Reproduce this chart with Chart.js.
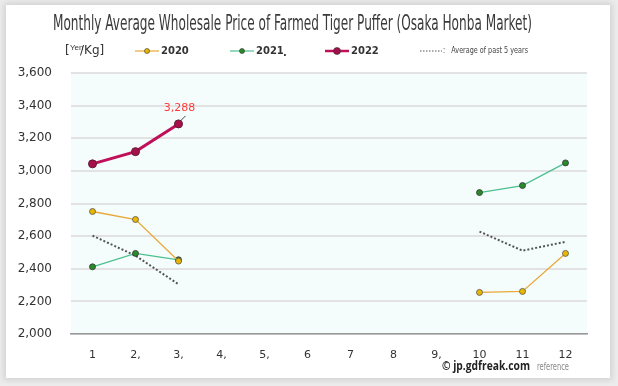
<!DOCTYPE html>
<html>
<head>
<meta charset="utf-8">
<script src="https://cdn.jsdelivr.net/npm/chart.js@4"></script>
<style>
  html, body { margin: 0; padding: 0; }
  body { width: 618px; height: 386px; background: #ececec; position: relative; overflow: hidden; }
  #card { position: absolute; left: 6px; top: 5px; width: 604px; height: 373px; background: #fff;
          box-shadow: 0 0 6px 2px rgba(0,0,0,0.12); }
  #wrap { position: absolute; left: 0; top: 0; width: 618px; height: 386px; }
</style>
</head>
<body>
<div id="card"></div>
<div id="wrap"><canvas id="chart" width="618" height="386"></canvas></div>
<script>
// Daten
const months = ['1', '2,', '3,', '4,', '5,', '6', '7', '8', '9,', '10', '11', '12'];
const price2020 = [2751, 2702, 2447, null, null, null, null, null, null, 2255, 2261, 2494];
const price2021 = [2412, 2494, 2455, null, null, null, null, null, null, 2867, 2910, 3049];
const price2022 = [3043, 3118, 3288, null, null, null, null, null, null, null, null, null];
const avg5y     = [2603, 2480, 2305, null, null, null, null, null, null, 2628, 2511, 2565];
const yTicks = [2000, 2200, 2400, 2600, 2800, 3000, 3200, 3400, 3600];

const titleText = 'Monthly Average Wholesale Price of Farmed Tiger Puffer (Osaka Honba Market)';

// Text horizontal auf eine Zielbreite stauchen (schmale Schrift nachahmen)
function drawFitted(ctx, text, x, y, width, font, color) {
  ctx.save();
  ctx.font = font;
  ctx.fillStyle = color;
  ctx.textBaseline = 'middle';
  ctx.textAlign = 'left';
  const w = ctx.measureText(text).width;
  ctx.translate(x, y);
  ctx.scale(width / w, 1);
  ctx.fillText(text, 0, 0);
  ctx.restore();
}

const decoPlugin = {
  id: 'deco',
  beforeDraw(chart) {
    const { ctx, chartArea: a } = chart;
    ctx.save();
    ctx.fillStyle = '#f5fcfc';
    ctx.fillRect(a.left, a.top, a.right - a.left, a.bottom - a.top);
    ctx.restore();
  },
  afterDraw(chart) {
    const ctx = chart.ctx;
    // Titel
    drawFitted(ctx, titleText, 53, 25, 479, '21px "Liberation Sans Narrow", "DejaVu Sans Condensed", sans-serif', '#3a3a3a');
    // Einheit
    ctx.save();
    ctx.fillStyle = '#333';
    ctx.textBaseline = 'middle';
    ctx.font = '12px "DejaVu Sans", sans-serif';
    ctx.fillText('[', 65, 51);
    ctx.font = '8px "Liberation Sans Narrow", sans-serif';
    ctx.fillText('Yen', 70, 48);
    ctx.font = '12px "DejaVu Sans", sans-serif';
    ctx.fillText('/Kg]', 80, 51);

    // Legende
    const items = [
      { x: 135, label: '2020', line: '#e8a838', pt: '#e8b800', r: 2.5, w: 1.2 },
      { x: 230, label: '2021', line: '#4cc090', pt: '#2a8a2a', r: 2.5, w: 1.2 },
      { x: 325, label: '2022', line: '#c0105a', pt: '#a0104a', r: 3.5, w: 2.5 }
    ];
    ctx.font = 'bold 10px "DejaVu Sans", sans-serif';
    items.forEach(it => {
      ctx.strokeStyle = it.line;
      ctx.lineWidth = it.w;
      ctx.beginPath(); ctx.moveTo(it.x, 51); ctx.lineTo(it.x + 24, 51); ctx.stroke();
      ctx.fillStyle = it.pt;
      ctx.beginPath(); ctx.arc(it.x + 12, 51, it.r, 0, Math.PI * 2); ctx.fill();
      ctx.strokeStyle = '#333'; ctx.lineWidth = 0.6; ctx.stroke();
      ctx.fillStyle = '#333';
      ctx.fillText(it.label, it.x + 26, 51);
    });
    ctx.fillText('.', 283, 53);
    ctx.strokeStyle = '#555';
    ctx.lineWidth = 1.2;
    ctx.setLineDash([1.5, 1.5]);
    ctx.beginPath(); ctx.moveTo(420, 51); ctx.lineTo(442, 51); ctx.stroke();
    ctx.setLineDash([]);
    ctx.restore();
    drawFitted(ctx, ':   Average of past 5 years', 443, 51, 85, '9px "Liberation Sans Narrow", "DejaVu Sans Condensed", sans-serif', '#444');

    // Datenbeschriftung 3,288
    const meta = chart.getDatasetMeta(2);
    const p = meta.data[2];
    ctx.save();
    ctx.strokeStyle = '#444';
    ctx.lineWidth = 1;
    ctx.beginPath(); ctx.moveTo(p.x + 2, p.y - 3); ctx.lineTo(p.x + 7, p.y - 8); ctx.stroke();
    ctx.fillStyle = '#ff3b3b';
    ctx.font = '11px "DejaVu Sans", sans-serif';
    ctx.textAlign = 'center';
    ctx.textBaseline = 'middle';
    ctx.fillText(price2022[2].toLocaleString('en-US'), p.x + 1, p.y - 16);
    ctx.restore();

    // Fusszeile
    drawFitted(ctx, '© jp.gdfreak.com', 442, 367, 88, 'bold 12px "Open Sans", "DejaVu Sans", sans-serif', '#222');
    drawFitted(ctx, 'reference', 537, 367, 32, '10px "Liberation Sans Narrow", "DejaVu Sans Condensed", sans-serif', '#888');
  }
};

new Chart(document.getElementById('chart'), {
  type: 'line',
  data: {
    labels: months,
    datasets: [
      { label: '2020', data: price2020, borderColor: '#e8a838', borderWidth: 1.3,
        pointBackgroundColor: '#e8b800', pointBorderColor: '#555', pointBorderWidth: 0.8, pointRadius: 3 },
      { label: '2021', data: price2021, borderColor: '#4cc090', borderWidth: 1.3,
        pointBackgroundColor: '#2a8a2a', pointBorderColor: '#333', pointBorderWidth: 0.8, pointRadius: 3 },
      { label: '2022', data: price2022, borderColor: '#c0105a', borderWidth: 3,
        pointBackgroundColor: '#a8104c', pointBorderColor: '#5a2030', pointBorderWidth: 1, pointRadius: 4 },
      { label: 'Average of past 5 years', data: avg5y, borderColor: '#555', borderWidth: 2,
        borderDash: [2, 2], pointRadius: 0 }
    ]
  },
  options: {
    responsive: false,
    animation: false,
    spanGaps: false,
    layout: { padding: { left: 0, right: 31, top: 73, bottom: 0 } },
    plugins: { legend: { display: false }, title: { display: false }, tooltip: { enabled: false } },
    scales: {
      x: {
        offset: true,
        grid: { display: false },
        border: { display: true, color: '#999', width: 1.5 },
        ticks: { color: '#333', font: { size: 11, family: '"DejaVu Sans", sans-serif' }, padding: 7, maxRotation: 0 },
        afterFit(s) { s.height = 52; }
      },
      y: {
        min: 2000, max: 3600,
        afterBuildTicks(s) { s.ticks = yTicks.map(v => ({ value: v })); },
        grid: { color: '#e2e2e2', lineWidth: 2, drawTicks: false },
        border: { display: false },
        ticks: { color: '#333', font: { size: 12, family: '"DejaVu Sans", sans-serif' }, padding: 19,
                 callback: v => v.toLocaleString('en-US') },
        afterFit(s) { s.width = 71; }
      }
    }
  },
  plugins: [decoPlugin]
});
</script>
</body>
</html>
